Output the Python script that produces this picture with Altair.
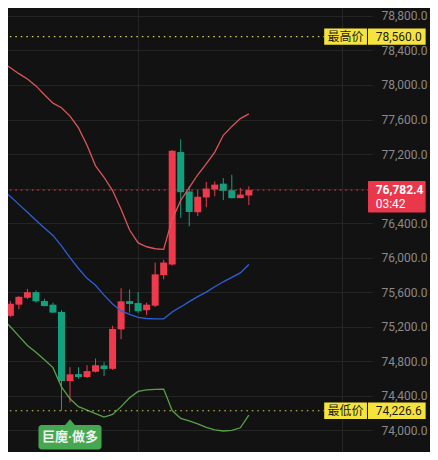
import altair as alt
import pandas as pd

# ---------------- data ----------------
candle_index = list(range(1, 30))
opens = [75326, 75455, 75535, 75600, 75497, 75455, 75371, 74571, 74651, 74617,
         74678, 74751, 74712, 75169, 75497, 75474, 75391, 75443, 75798, 75920,
         77223, 76766, 76526, 76697, 76789, 76857, 76781, 76689, 76720]
highs = [75497, 75554, 75638, 75619, 75523, 75478, 75391, 74731, 74731, 74754,
         74831, 74789, 75211, 75646, 75631, 75600, 75478, 75943, 75974, 77246,
         77371, 76826, 76774, 76877, 76883, 76922, 76960, 76808, 76826]
lows = [75314, 75402, 75520, 75478, 75435, 75360, 74226.6, 74323, 74598, 74606,
        74670, 74629, 74700, 75055, 75363, 75360, 75334, 75429, 75749, 75909,
        76461, 76362, 76483, 76583, 76712, 76666, 76686, 76689, 76609]
closes = [75466, 75546, 75600, 75494, 75440, 75363, 74571, 74648, 74617, 74686,
          74754, 74709, 75174, 75494, 75463, 75379, 75455, 75806, 75943, 77238,
          76758, 76529, 76705, 76800, 76846, 76774, 76689, 76731, 76782.4]

band_index = list(range(0, 30))
upper_band = [78263, 78200, 78131, 78069, 77989, 77886, 77789, 77737, 77640, 77503,
              77303, 77063, 76931, 76777, 76560, 76320, 76171, 76126, 76103, 76095,
              76446, 76663, 76811, 76960, 77086, 77223, 77417, 77520, 77611, 77665]
middle_band = [76789, 76709, 76617, 76526, 76434, 76343, 76257, 76137, 76000, 75874,
               75760, 75680, 75566, 75463, 75383, 75343, 75309, 75295, 75291, 75291,
               75371, 75429, 75491, 75549, 75600, 75663, 75720, 75771, 75823, 75920]
lower_band = [75297, 75200, 75091, 74983, 74903, 74817, 74726, 74503, 74366, 74274,
              74234, 74194, 74154, 74183, 74274, 74377, 74451, 74469, 74474, 74477,
              74229, 74137, 74109, 74074, 74034, 74006, 73992, 74000, 74029, 74177]

price_ticks = [73600, 74000, 74400, 74800, 75200, 75600, 76000, 76400, 76800,
               77200, 77600, 78000, 78400, 78800]
hidden_tick = 76800  # covered by the last-price box
time_grid = [15.93, 39.93]

high_price = 78560.0
low_price = 74226.6
last_price = 76782.4
countdown = "03:42"
high_tag = "最高价"
low_tag = "最低价"
signal_text = "巨魔·做多"
signal_index = 8
marker_index = 29

# ---------------- style ----------------
BG = "#121212"
GRID = "#252525"
AXIS_TXT = "#8a8a8a"
UP = "#f0394c"
DOWN = "#13a07f"
UPPER_C = "#dd5558"
MIDDLE_C = "#2e5fd4"
LOWER_C = "#59a04b"
YELLOW = "#f6e43e"
YELLOW_LINE = "#ddd35a"
RED_BOX = "#e9384b"
RED_LINE = "#b8434f"
TAG_GREEN = "#45a74f"
PURPLE = "#9b30c2"
NUM_FONT = "Roboto"
CJK_FONT = "Roboto, 'Noto Sans CJK SC'"

Y_LO, Y_HI = 73748.6, 78891.6
PLOT_W, PLOT_H = 364, 444
PPX = (Y_HI - Y_LO) / PLOT_H  # price units per pixel

x_scale = alt.Scale(domain=[1.308, 42.875], nice=False, zero=False)
y_scale = alt.Scale(domain=[Y_LO, Y_HI], nice=False, zero=False)
x_axis = alt.Axis(values=time_grid, grid=True, gridColor=GRID, labels=False,
                  ticks=False, domain=False, title=None, zindex=0)
y_axis = alt.Axis(orient="right", values=price_ticks,
                  labelExpr=f"datum.value == {hidden_tick} ? '' : format(datum.value, ',.1f')",
                  grid=True, gridColor=GRID, ticks=False, domain=False, title=None,
                  labelAlign="left", labelPadding=9, labelColor=AXIS_TXT,
                  labelFont=NUM_FONT, labelFontSize=12, labelBaseline="middle",
                  zindex=0)


def xe(f):
    return alt.X(f, type="quantitative", scale=x_scale, axis=x_axis)


def ye(f):
    return alt.Y(f, type="quantitative", scale=y_scale, axis=y_axis)


candles = pd.DataFrame(dict(i=candle_index, open=opens, high=highs, low=lows, close=closes))
candles["dir"] = ["up" if c >= o else "down" for o, c in zip(opens, closes)]
bands = pd.DataFrame(dict(i=band_index, upper=upper_band, middle=middle_band, lower=lower_band))

color_enc = alt.Color("dir:N", scale=alt.Scale(domain=["up", "down"], range=[UP, DOWN]), legend=None)

cbase = alt.Chart(candles)
wicks = cbase.mark_rule(strokeWidth=1).encode(x=xe("i"), y=ye("low"), y2="high", color=color_enc)
bodies = cbase.mark_bar(size=7).encode(x=xe("i"), y=ye("open"), y2="close", color=color_enc)

bbase = alt.Chart(bands)
upper_line = bbase.mark_line(color=UPPER_C, strokeWidth=1.3, clip=True).encode(x=xe("i"), y=ye("upper"))
middle_line = bbase.mark_line(color=MIDDLE_C, strokeWidth=1.3, clip=True).encode(x=xe("i"), y=ye("middle"))
lower_line = bbase.mark_line(color=LOWER_C, strokeWidth=1.3, clip=True).encode(x=xe("i"), y=ye("lower"))

# tag positions (index units on the x scale)
X_START, X_TAG_L, X_TAG_R, X_BOX_L, X_BOX_R = -1.0, 37.85, 42.87, 42.99, 49.76
X_TAG_TXT, X_NUM_TXT = 40.36, 43.9

tags = pd.DataFrame({"level": [high_price, low_price], "tag": [high_tag, low_tag]})
tags["label"] = [f"{v:,.1f}" for v in tags["level"]]
tags["top"] = tags["level"] + 8.2 * PPX
tags["bottom"] = tags["level"] - 8.2 * PPX
tags["x0"], tags["x1"], tags["xl"], tags["xm"] = X_START, X_TAG_L, X_TAG_L, X_TAG_R
tags["xb"], tags["xr"], tags["xt"], tags["xn"] = X_BOX_L, X_BOX_R, X_TAG_TXT, X_NUM_TXT

tbase = alt.Chart(tags)
tag_lines = tbase.mark_rule(color=YELLOW_LINE, strokeWidth=1.2, strokeDash=[1.5, 4]).encode(
    x=xe("x0"), x2="x1", y=ye("level"))
tag_rect = tbase.mark_rect(color=YELLOW).encode(x=xe("xl"), x2="xm", y=ye("top"), y2="bottom")
val_rect = tbase.mark_rect(color=YELLOW).encode(x=xe("xb"), x2="xr", y=ye("top"), y2="bottom")
tag_txt = tbase.mark_text(font=CJK_FONT, fontSize=12, color="#1c1c1c", align="center",
                          baseline="middle").encode(x=xe("xt"), y=ye("level"), text="tag:N")
val_txt = tbase.mark_text(font=NUM_FONT, fontSize=12, color="#1c1c1c", align="left",
                          baseline="middle").encode(x=xe("xn"), y=ye("level"), text="label:N")

last = pd.DataFrame({"level": [last_price], "label": [f"{last_price:,.1f}"], "cd": [countdown]})
last["top"] = last["level"] + 9 * PPX
last["bottom"] = last["level"] - 22.3 * PPX
last["cd_y"] = last["level"] - 13.5 * PPX
last["x0"], last["xb"], last["xr"], last["xn"] = X_START, X_BOX_L, X_BOX_R, X_NUM_TXT

lbase = alt.Chart(last)
last_line = lbase.mark_rule(color=RED_LINE, strokeWidth=1.2, strokeDash=[1.5, 4]).encode(
    x=xe("x0"), x2="xb", y=ye("level"))
last_rect = lbase.mark_rect(color=RED_BOX, cornerRadius=1).encode(x=xe("xb"), x2="xr", y=ye("top"), y2="bottom")
last_txt = lbase.mark_text(font=NUM_FONT, fontSize=12, fontWeight="bold", color="white", align="left",
                           baseline="middle").encode(x=xe("xn"), y=ye("level"), text="label:N")
cd_txt = lbase.mark_text(font=NUM_FONT, fontSize=12, color="white", align="left",
                         baseline="middle").encode(x=xe("xn"), y=ye("cd_y"), text="cd:N")

sig = pd.DataFrame({"i": [signal_index], "text": [signal_text]})
sig["xl"] = sig["i"] - 3.7
sig["xr"] = sig["i"] + 3.7
sig["top"] = lows[signal_index - 1] - 22.6 * PPX
sig["bottom"] = sig["top"] - 24.5 * PPX
sig["ty"] = sig["top"] - 12.3 * PPX
sig["tri"] = sig["top"] + 2.8 * PPX

sbase = alt.Chart(sig)
sig_rect = sbase.mark_rect(color=TAG_GREEN, cornerRadius=3).encode(x=xe("xl"), x2="xr", y=ye("top"), y2="bottom")
sig_tri = sbase.mark_point(shape="M-1,0.6L0,-0.6L1,0.6Z", size=100, filled=True, opacity=1,
                           color=TAG_GREEN).encode(x=xe("i"), y=ye("tri"))
sig_txt = sbase.mark_text(font=CJK_FONT, fontSize=13, fontWeight="bold", color="#f2f2f2",
                          align="center", baseline="middle").encode(x=xe("i"), y=ye("ty"), text="text:N")

mk = pd.DataFrame({"i": [marker_index - 0.06], "p": [73611.0]})
marker = alt.Chart(mk).mark_circle(size=154, color=PURPLE, opacity=1).encode(x=xe("i"), y=ye("p"))

chart = alt.layer(
    wicks, bodies, upper_line, middle_line, lower_line,
    tag_lines, last_line, tag_rect, val_rect, tag_txt, val_txt,
    last_rect, last_txt, cd_txt, sig_rect, sig_tri, sig_txt, marker
).properties(
    width=PLOT_W, height=PLOT_H,
    autosize=alt.AutoSizeParams(type="none"),
    padding={"left": 0, "top": 0, "right": 58, "bottom": 0},
    background=BG,
).configure_view(stroke=None)

chart.save("out.html", embed_options={"renderer": "svg", "actions": False})
